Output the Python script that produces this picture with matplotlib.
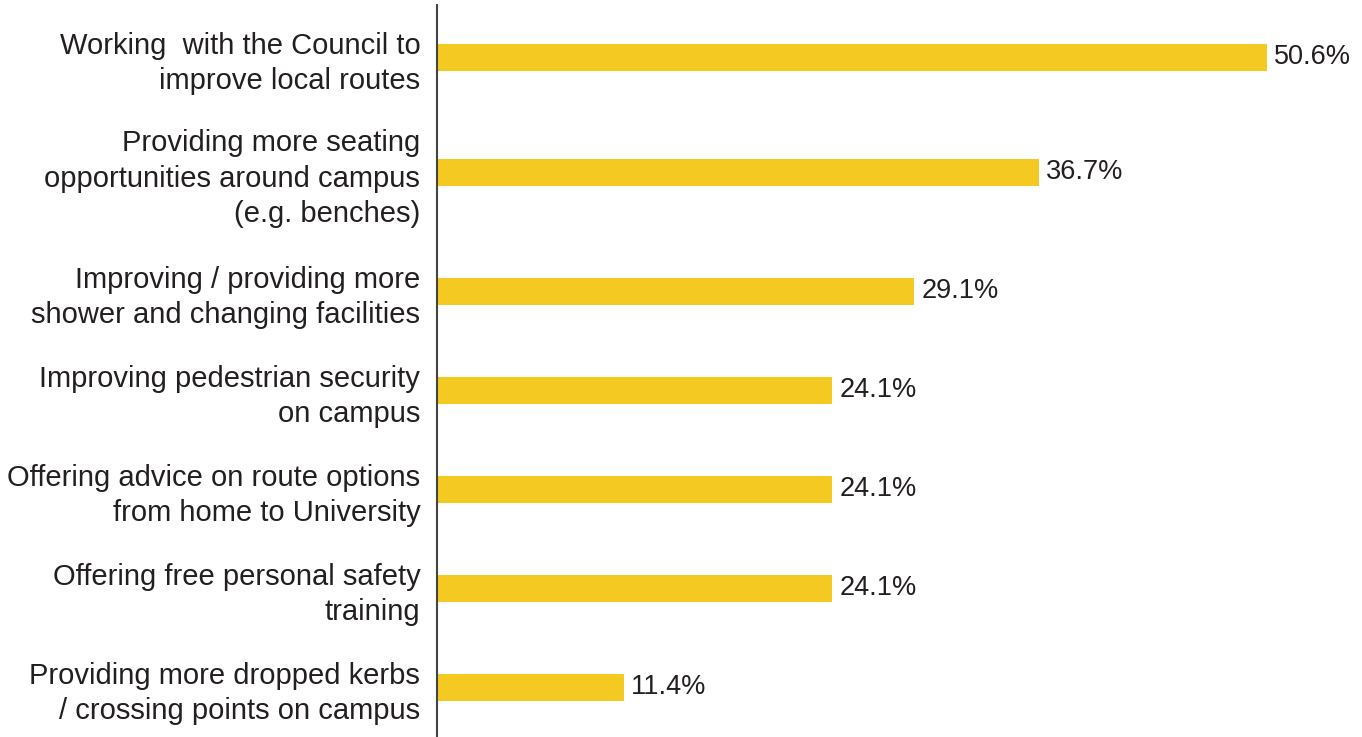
import matplotlib
matplotlib.use("Agg")
import matplotlib.pyplot as plt

categories = [
    "Working  with the Council to\nimprove local routes",
    "Providing more seating\nopportunities around campus\n(e.g. benches)",
    "Improving / providing more\nshower and changing facilities",
    "Improving pedestrian security\non campus",
    "Offering advice on route options\nfrom home to University",
    "Offering free personal safety\ntraining",
    "Providing more dropped kerbs\n/ crossing points on campus",
]
values = [50.6, 36.7, 29.1, 24.1, 24.1, 24.1, 11.4]

# layout: bar centres in pixel rows (labels are uneven height)
BAR_Y = [57, 172, 291, 390, 489, 588, 687]
BAR_COLOR = "#F4CA22"
TEXT_COLOR = "#231F20"

plt.rcParams["font.family"] = ["Liberation Sans", "DejaVu Sans"]

W, H = 1362, 737
fig = plt.figure(figsize=(W / 100, H / 100), dpi=100)
ax = fig.add_axes([437 / W, 0, 1 - 437 / W, (H - 5) / H])

ax.barh(BAR_Y, values, height=27, color=BAR_COLOR, linewidth=0)
ax.set_ylim(H, 5)
ax.set_xlim(0, 925 / 16.4)

for y, v in zip(BAR_Y, values):
    ax.annotate(f"{v:.1f}%", (v, y), xytext=(5, 0), textcoords="offset points",
                va="center", ha="left", fontsize=19.5, color=TEXT_COLOR)

ax.set_yticks(BAR_Y)
ax.set_yticklabels(categories, fontsize=21, color=TEXT_COLOR, linespacing=1.34)
ax.tick_params(axis="y", length=0, pad=12)
ax.set_xticks([])

for side in ["top", "right", "bottom"]:
    ax.spines[side].set_visible(False)
ax.spines["left"].set_color("#444444")
ax.spines["left"].set_linewidth(1.5)

fig.savefig("out.png", dpi=100)
